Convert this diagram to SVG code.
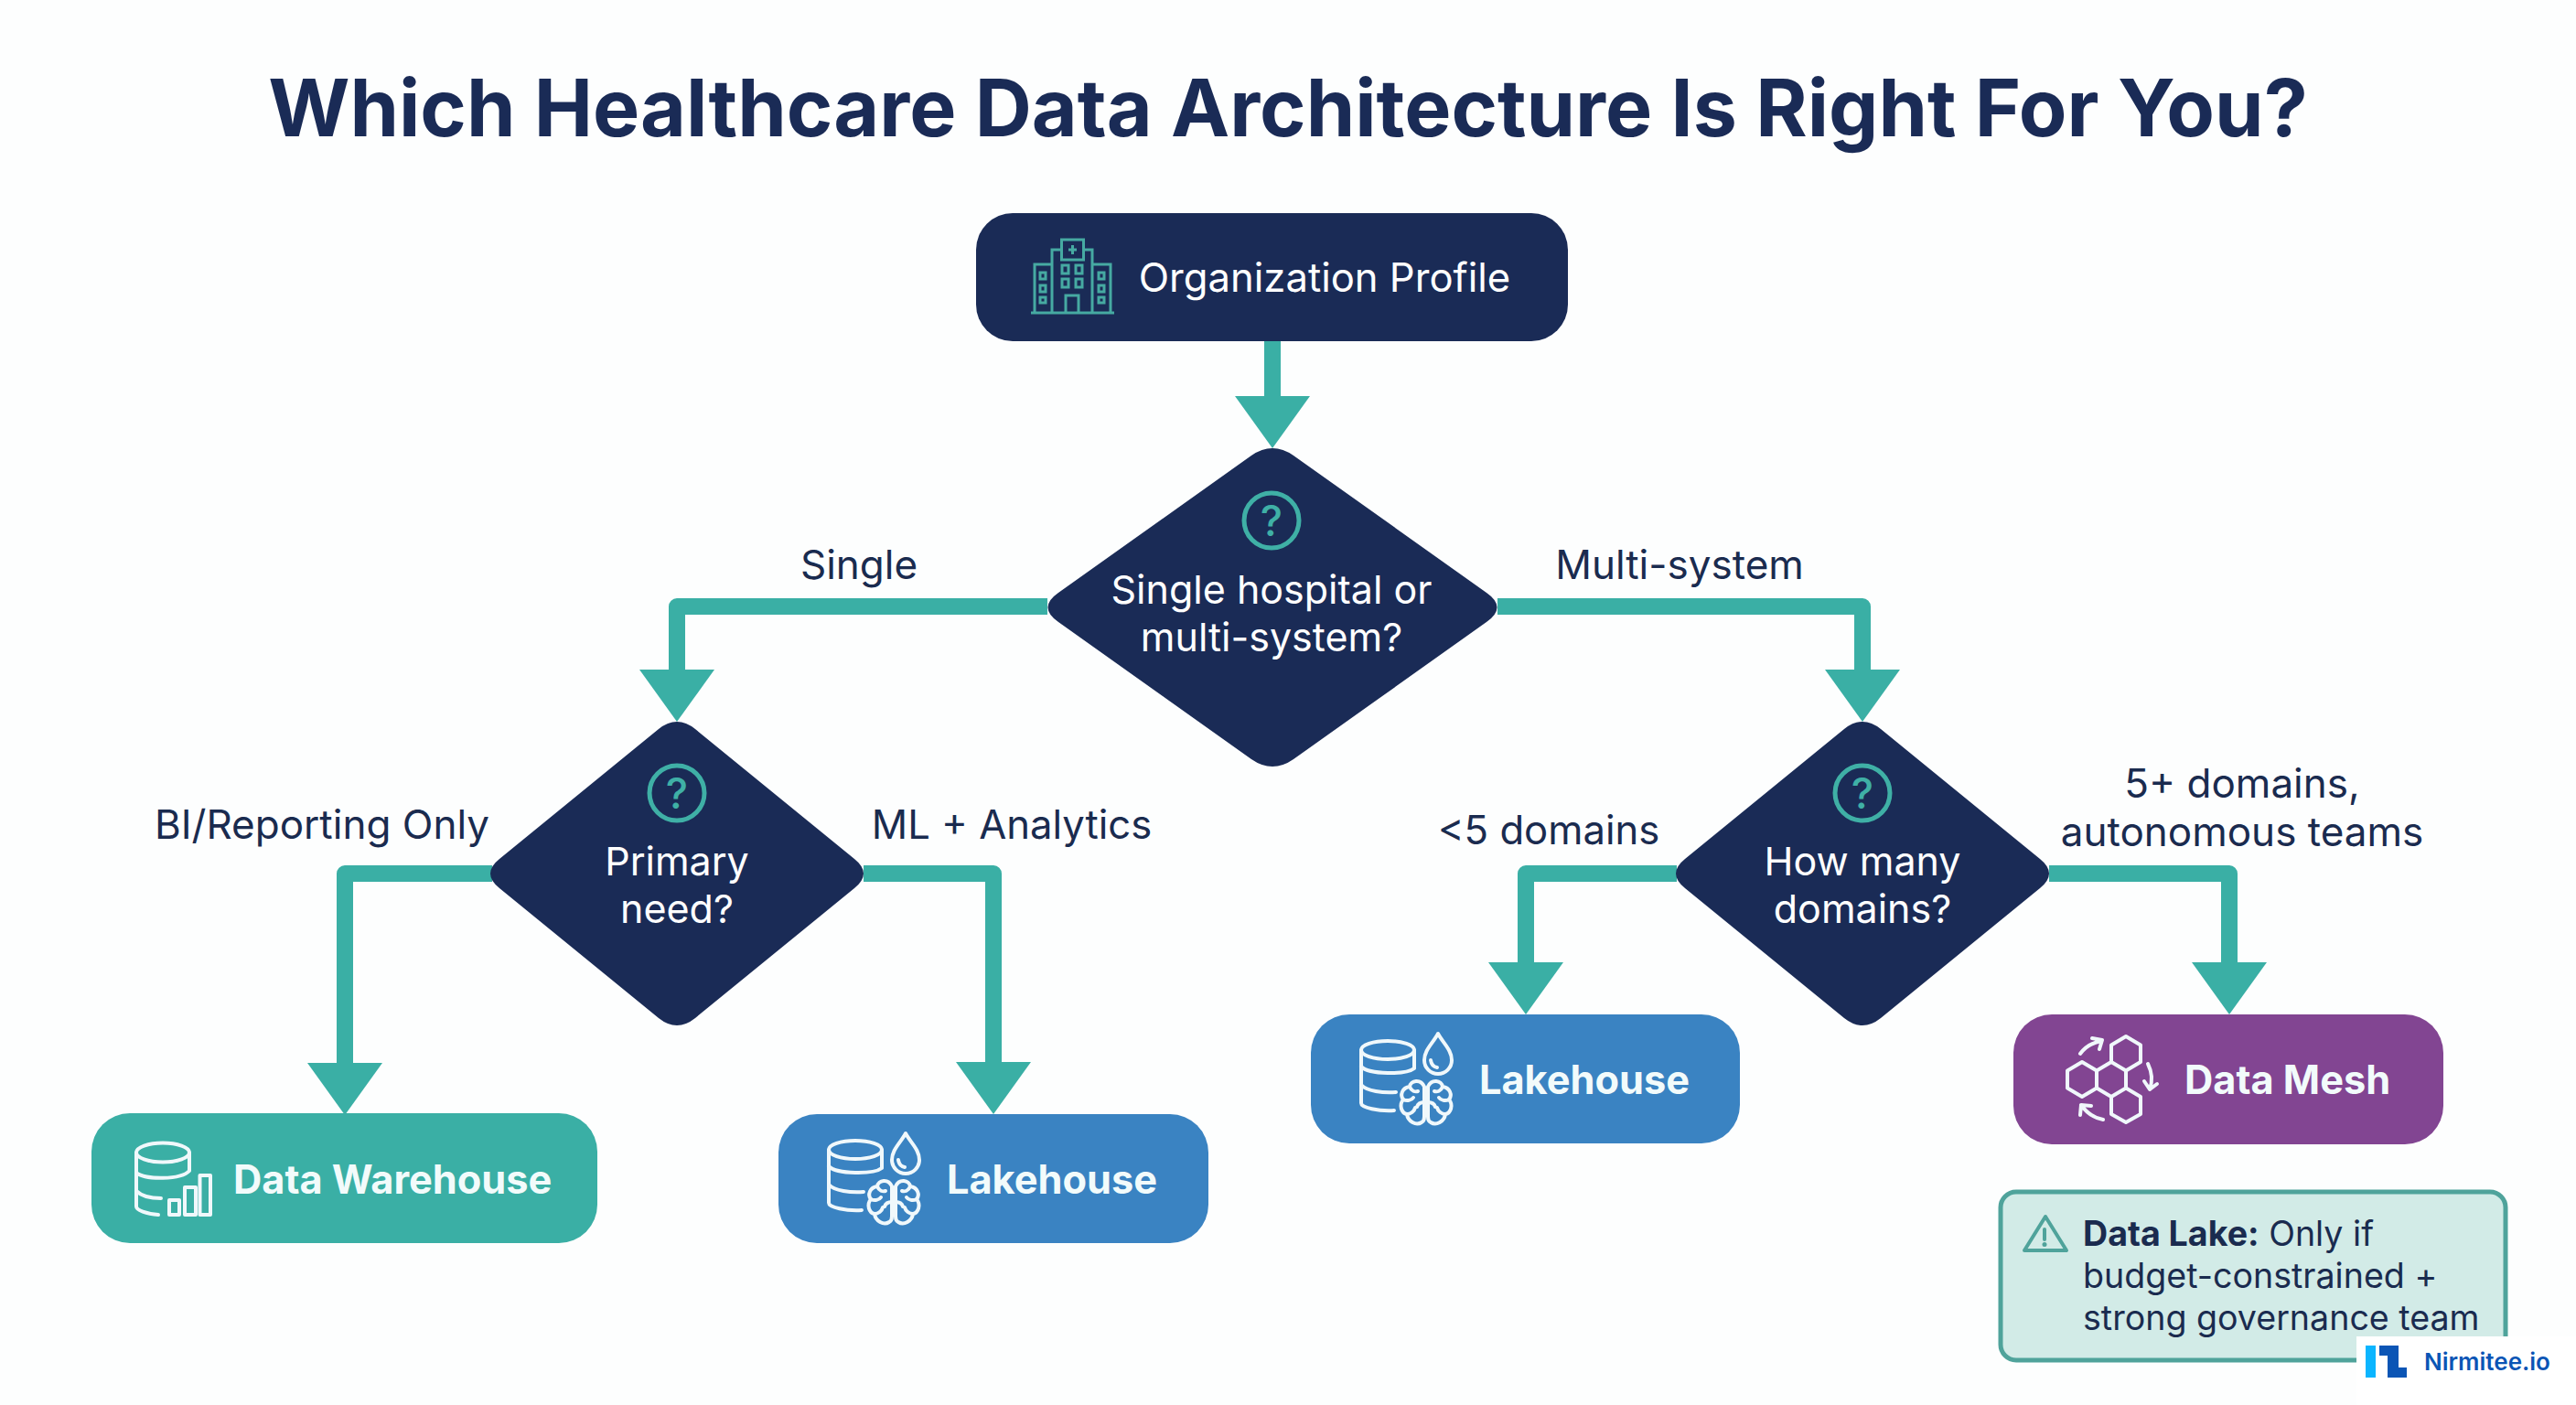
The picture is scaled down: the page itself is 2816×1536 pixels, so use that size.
<svg xmlns="http://www.w3.org/2000/svg" width="2816" height="1536" viewBox="0 0 2816 1536">
<style>
text{font-family:Inter,"Liberation Sans",sans-serif}
.lbl{font-size:44px;fill:#1a2b4f;text-anchor:middle}
.dt{font-size:43px;fill:#ffffff;text-anchor:middle}
.box{font-size:43.300px;font-weight:700;fill:#f2fbfb}
.note{font-size:37.600px;fill:#1a2b4f}
.q{font-size:46px;font-weight:500;fill:#3fb0a6;text-anchor:middle}
.conn{fill:none;stroke:#3aafa5;stroke-width:18;stroke-linejoin:round}
.ic{fill:none;stroke:#f0f8fb;stroke-width:4;stroke-linecap:round;stroke-linejoin:round}
.ring{fill:none;stroke:#3fb0a6;stroke-width:5}
.navy{fill:#1a2b56}
.h{fill:none;stroke:#46aaa2;stroke-width:3}
</style>
<defs>
<marker id="head" markerUnits="userSpaceOnUse" viewBox="0 0 57 82" markerWidth="57" markerHeight="82" refX="1" refY="41" orient="auto"><path d="M0 0L57 41L0 82Z" fill="#3aafa5"/></marker>
<g id="lakeicon" class="ic">
<ellipse cx="935" cy="1257" rx="29" ry="10"/>
<path d="M906 1257V1315C906 1320 925 1324 942 1323"/>
<path d="M964 1257V1277C955 1284 915 1284 906 1275"/>
<path d="M906 1295C912 1302 930 1304 944 1303"/>
<path d="M990 1239C984 1250 975 1257 975 1268A15 15 0 0 0 1005 1268C1005 1257 996 1250 990 1239Z"/>
<path d="M982 1268Q983 1275 989 1276"/>
<g id="halfbrain">
<path d="M975 1297C971 1288 960 1290 959 1297C951 1298 948 1306 952 1311C947 1317 950 1326 956 1327C957 1335 966 1340 972 1336C974 1335 975 1332 975 1330Z"/>
<path d="M959 1297C961 1302 965 1303 968 1302M952 1311C956 1313 961 1312 963 1309M956 1327C960 1327 964 1324 965 1320M975 1314C971 1314 968 1316 967 1319"/>
</g>
<use href="#halfbrain" transform="matrix(-1 0 0 1 1954 0)"/>
</g>
</defs>
<rect width="2816" height="1536" fill="#fdfefe"/>
<text x="1408" y="149" text-anchor="middle" font-size="86" font-weight="700" fill="#1a2b56">Which Healthcare Data Architecture Is Right For You?</text>

<g id="connectors">
<path class="conn" marker-end="url(#head)" d="M1391 373V434"/>
<path class="conn" marker-end="url(#head)" d="M1145 663H740V733"/>
<path class="conn" marker-end="url(#head)" d="M1637 663H2036V733"/>
<path class="conn" marker-end="url(#head)" d="M538 955H377V1163"/>
<path class="conn" marker-end="url(#head)" d="M944 955H1086V1162"/>
<path class="conn" marker-end="url(#head)" d="M1833 955H1668V1053"/>
<path class="conn" marker-end="url(#head)" d="M2240 955H2437V1053"/>
</g>

<g id="org-profile">
<rect x="1067" y="233" width="647" height="140" rx="40" class="navy"/>
<g class="h">
<rect x="1160.500" y="262" width="24" height="22"/>
<path d="M1168 273H1177M1172.500 268V278"/>
<path d="M1160 273H1150V341M1185 273H1194V341M1150 289H1131V341M1194 289H1214V341M1127 342H1218"/>
<path d="M1165 341V323H1179V341"/>
<rect x="1161" y="290" width="7" height="9"/><rect x="1176" y="290" width="7" height="9"/>
<rect x="1161" y="305" width="7" height="9"/><rect x="1176" y="305" width="7" height="9"/>
<rect x="1137" y="298" width="6" height="7"/><rect x="1137" y="312" width="6" height="7"/><rect x="1137" y="325" width="6" height="6"/>
<rect x="1201" y="298" width="6" height="7"/><rect x="1201" y="312" width="6" height="7"/><rect x="1201" y="325" width="6" height="6"/>
</g>
<text x="1448" y="319" class="dt" style="font-size:43.600px">Organization Profile</text>
</g>

<g id="decision-system">
<path class="navy" d="M1368 498Q1391 482 1414 498L1625 648Q1648 664 1625 680L1414 830Q1391 846 1368 830L1157 680Q1134 664 1157 648Z"/>
<circle class="ring" cx="1390" cy="569" r="30"/>
<text x="1390" y="586" class="q">?</text>
<text x="1390" y="660" class="dt">Single hospital or</text>
<text x="1390" y="712" class="dt">multi-system?</text>
</g>

<g id="decision-need">
<path class="navy" d="M720 797Q740 781 760 797L934 939Q954 955 934 971L760 1113Q740 1129 720 1113L546 971Q526 955 546 939Z"/>
<circle class="ring" cx="740" cy="867" r="30"/>
<text x="740" y="884" class="q">?</text>
<text x="740" y="957" class="dt">Primary</text>
<text x="740" y="1009" class="dt">need?</text>
</g>

<g id="decision-domains">
<path class="navy" d="M2016 797Q2036 781 2056 797L2230 939Q2250 955 2230 971L2056 1113Q2036 1129 2016 1113L1842 971Q1822 955 1842 939Z"/>
<circle class="ring" cx="2036" cy="867" r="30"/>
<text x="2036" y="884" class="q">?</text>
<text x="2036" y="957" class="dt">How many</text>
<text x="2036" y="1009" class="dt">domains?</text>
</g>

<g id="labels">
<text x="939" y="633" class="lbl">Single</text>
<text x="1836" y="633" class="lbl">Multi-system</text>
<text x="352" y="917" class="lbl">BI/Reporting Only</text>
<text x="1106" y="917" class="lbl" style="font-size:43.600px">ML + Analytics</text>
<text x="1693" y="923" class="lbl" style="font-size:43.600px">&lt;5 domains</text>
<text x="2451" y="872" class="lbl">5+ domains,</text>
<text x="2451" y="925" class="lbl">autonomous teams</text>
</g>

<g id="data-warehouse">
<rect x="100" y="1217" width="553" height="142" rx="42" fill="#3aafa5"/>
<g class="ic">
<ellipse cx="178" cy="1260" rx="29" ry="10.500"/>
<path d="M149 1260V1319C149 1323 160 1327 173 1328"/>
<path d="M207 1260V1280C198 1290 158 1290 149 1282"/>
<path d="M149 1302C155 1308 165 1310 176 1310"/>
<rect x="185" y="1312" width="11" height="16"/>
<rect x="202" y="1298" width="12" height="30"/>
<rect x="218.500" y="1285" width="11.500" height="43"/>
</g>
<text x="255" y="1305" class="box">Data Warehouse</text>
</g>

<g id="lakehouse-1">
<rect x="851" y="1218" width="470" height="141" rx="42" fill="#3a83c2"/>
<use href="#lakeicon"/>
<text x="1035" y="1305" class="box">Lakehouse</text>
</g>

<g id="lakehouse-2">
<rect x="1433" y="1109" width="469" height="141" rx="42" fill="#3a83c2"/>
<use href="#lakeicon" transform="translate(582 -109)"/>
<text x="1617" y="1196" class="box">Lakehouse</text>
</g>

<g id="data-mesh">
<rect x="2201" y="1109" width="470" height="142" rx="42" fill="#824592"/>
<g class="ic">
<path d="M2276 1161L2292 1170.500V1189.500L2276 1199L2260 1189.500V1170.500Z"/>
<path d="M2292 1170.500L2308 1161L2324 1170.500V1189.500L2308 1199L2292 1189.500"/>
<path d="M2308 1161V1142.500L2324 1133L2340 1142.500V1161L2324 1170.500"/>
<path d="M2324 1189.500L2340 1199V1218L2324 1227L2308 1218V1199"/>
<path d="M2274 1152Q2282 1141 2297 1138M2287 1135L2298 1137L2295 1147"/>
<path d="M2348 1163Q2355 1177 2350 1191M2344 1182L2350 1191L2358 1185"/>
<path d="M2299 1224Q2284 1221 2275 1208M2274 1219L2275 1208L2286 1209"/>
</g>
<text x="2388" y="1196" class="box">Data Mesh</text>
</g>

<g id="data-lake-note">
<rect x="2187" y="1303" width="552" height="184" rx="17" fill="#d2ebe7" stroke="#4fa39b" stroke-width="5"/>
<path d="M2236 1330L2259 1367H2213Z" fill="none" stroke="#4fa39b" stroke-width="4" stroke-linejoin="round"/>
<path d="M2235 1344V1355" fill="none" stroke="#4fa39b" stroke-width="4" stroke-linecap="round"/>
<circle cx="2235" cy="1360.500" r="2.500" fill="#4fa39b"/>
<text x="2277" y="1362" class="note"><tspan font-weight="700">Data Lake:</tspan> Only if</text>
<text x="2277" y="1408" class="note">budget-constrained +</text>
<text x="2277" y="1454" class="note">strong governance team</text>
</g>

<g id="nirmitee-logo">
<rect x="2576" y="1461" width="240" height="75" fill="#ffffff"/>
<rect x="2586" y="1471" width="11" height="35" fill="#0bb5ff"/>
<path d="M2601 1471H2622V1495H2631V1506H2610V1482H2601Z" fill="#0b55b5"/>
<text x="2650" y="1498" font-size="26" font-weight="600" fill="#0b55b5">Nirmitee.io</text>
</g>
</svg>
